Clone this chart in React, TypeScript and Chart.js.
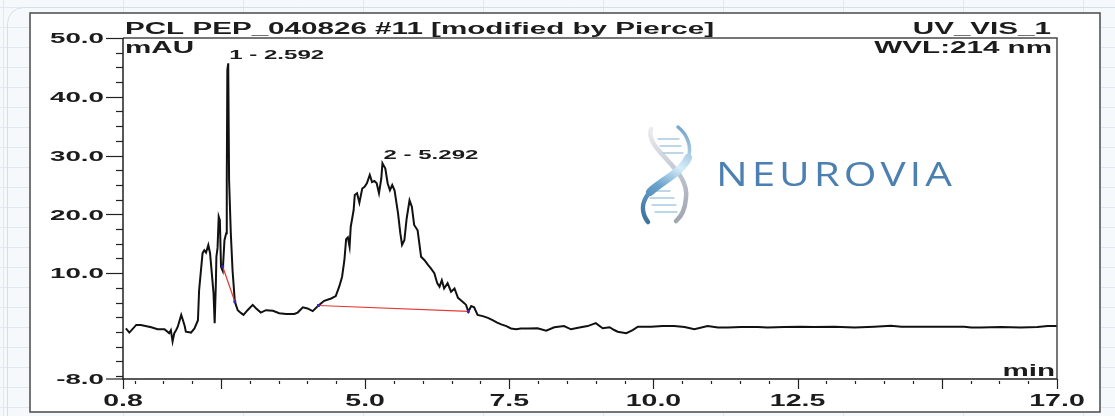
import React, { useEffect, useRef } from "react";
import { Chart, registerables } from "chart.js";
Chart.register(...registerables);

// ---- Data (retention time in min, absorbance in mAU) ----
const TIMES = [
  0.85, 0.91, 1.03, 1.11, 1.29, 1.40, 1.52, 1.60, 1.63, 1.66, 1.69, 1.72, 1.75, 1.81, 1.84, 1.87, 1.89, 1.98,
  2.04, 2.10, 2.12, 2.18, 2.21, 2.24, 2.28, 2.31, 2.34, 2.37, 2.39, 2.41, 2.42, 2.44, 2.46, 2.48, 2.50, 2.53,
  2.56, 2.59, 2.60, 2.61, 2.625, 2.64, 2.67, 2.70, 2.74, 2.79, 2.85, 2.89, 2.96, 3.05, 3.11,
  3.19, 3.28, 3.40, 3.51, 3.63, 3.77, 3.83, 3.92, 4.00, 4.09, 4.19, 4.29, 4.41, 4.49, 4.55, 4.60, 4.64, 4.67,
  4.70, 4.73, 4.75, 4.80, 4.82, 4.86, 4.90, 4.95, 4.99, 5.03, 5.08, 5.12, 5.16, 5.20, 5.24, 5.28, 5.30, 5.35,
  5.39, 5.43, 5.47, 5.51, 5.57, 5.61, 5.64, 5.68, 5.72, 5.77, 5.81, 5.85, 5.91, 5.97, 6.03,
  6.09, 6.14, 6.20, 6.25, 6.29, 6.33, 6.37, 6.43, 6.49, 6.55, 6.61, 6.66, 6.72, 6.75, 6.79, 6.84, 6.89, 6.95,
  7.04, 7.13, 7.21, 7.29, 7.36, 7.45, 7.53, 7.62, 7.70, 7.82, 7.99, 8.14, 8.28, 8.45, 8.57, 8.74, 8.86, 9.00,
  9.12, 9.24, 9.32, 9.38, 9.53, 9.64, 9.73, 9.96, 10.16, 10.36, 10.54, 10.71, 10.94, 11.12, 11.29, 11.52,
  11.81, 11.98, 12.27, 12.56, 12.79, 13.14, 13.49, 13.83, 14.12, 14.30, 14.87, 15.39, 15.51, 15.68, 16.03,
  16.37, 16.66, 16.84, 17.0,
];
const MAU = [
  0.6, -0.1, 1.2, 1.2, 0.8, 0.45, 0.45, -0.2, 0.3, -1.6, -0.2, 0.3, 0.9, 2.9, 2.0, 1.0, 0.05, -0.1,
  0.6, 2.0, 7.1, 13.4, 13.9, 13.5, 14.8, 13.4, 10.0, 6.6, 1.5, 8.0, 12.8, 14.3, 19.6, 19.0, 11.1, 10.4,
  15.6, 16.8, 25.8, 44.6, 45.7, 25.8, 16.8, 10.5, 5.15, 3.7, 3.2, 2.9, 3.7, 4.6, 4.0,
  3.3, 3.7, 3.6, 3.2, 3.05, 3.05, 3.3, 4.2, 4.0, 3.55, 4.5, 5.3, 5.7, 6.1, 7.7, 9.4, 12.2, 15.8,
  16.1, 14.5, 17.9, 20.7, 23.3, 23.6, 22.0, 24.4, 24.7, 25.3, 26.7, 25.5, 25.7, 25.3, 23.6, 26.1, 28.7, 27.8,
  25.3, 24.1, 25.0, 24.1, 20.2, 16.8, 14.8, 15.6, 19.3, 22.4, 21.3, 18.2, 17.3, 12.8, 12.2,
  11.4, 10.8, 10.0, 8.3, 7.7, 8.8, 7.4, 8.3, 6.85, 7.4, 5.8, 5.4, 4.9, 4.6, 3.45, 4.4, 4.2, 2.9,
  2.7, 2.4, 2.0, 1.6, 1.3, 1.0, 0.6, 0.45, 0.6, 0.6, 0.62, 0.22, 0.8, 1.0, 0.45, 0.8, 1.0, 1.5,
  0.62, 0.8, 0.33, 0.05, -0.2, 0.33, 0.9, 0.9, 1.0, 1.0, 0.85, 0.45, 1.0, 0.75, 0.75, 0.85,
  0.85, 0.75, 0.85, 0.9, 0.85, 0.9, 0.75, 0.9, 1.05, 0.9, 0.9, 0.9, 0.75, 0.75, 0.85,
  0.75, 0.85, 1.0, 1.0,
];

// integration baselines
const BASE1_T = [2.53, 2.74];
const BASE1_V = [11.1, 5.15];
const BASE2_T = [4.19, 6.79];
const BASE2_V = [4.5, 3.5];

// peak annotations
const PEAK_LABELS = ["1 - 2.592", "2 - 5.292"];
const PEAK_T = [2.625, 5.30];
const PEAK_V = [45.7, 28.7];

// axes
const X_MIN = 0.8;
const X_MAX = 17.0;
const Y_MIN = -8;
const Y_MAX = 50;
const X_LABEL_TICKS = [0.8, 5.0, 7.5, 10.0, 12.5, 17.0];
const X_LABEL_TEXT = ["0.8", "5.0", "7.5", "10.0", "12.5", "17.0"];
const X_MAJOR_TICKS = [0.8, 2.5, 5.0, 7.5, 10.0, 12.5, 15.0, 17.0];
const X_MINOR_STEP = 0.5;
const Y_LABEL_TICKS = [50, 40, 30, 20, 10, -8];
const Y_LABEL_TEXT = ["50.0", "40.0", "30.0", "20.0", "10.0", "-8.0"];
const Y_MINOR_STEP = 2.5;

const TITLE = "PCL PEP_040826 #11 [modified by Pierce]";
const CHANNEL = "UV_VIS_1";
const WAVELENGTH = "WVL:214 nm";
const Y_UNIT = "mAU";
const X_UNIT = "min";
const BRAND = "NEUROVIA";

const SX = 1.85;
const FONT = "'Liberation Sans', Arial, sans-serif";
const INK = "#1c1c1c";

function sText(ctx: any, text: string, x: number, y: number, font: string, align: string, baseline = "alphabetic", sx = SX) {
  ctx.save();
  ctx.font = font;
  ctx.fillStyle = INK;
  ctx.textAlign = align;
  ctx.textBaseline = baseline;
  ctx.translate(x, y);
  ctx.scale(sx, 1);
  ctx.fillText(text, 0, 0);
  ctx.restore();
}

function drawLogo(ctx: any) {
  ctx.save();
  ctx.lineCap = "round";
  // silver strand
  const g1 = ctx.createLinearGradient(645, 125, 690, 225);
  g1.addColorStop(0, "#eeeff3");
  g1.addColorStop(0.5, "#c3c7d0");
  g1.addColorStop(1, "#9aa0ab");
  ctx.strokeStyle = g1;
  ctx.lineWidth = 4.5;
  ctx.beginPath();
  ctx.moveTo(651, 129);
  ctx.bezierCurveTo(644, 150, 690, 168, 686, 198);
  ctx.bezierCurveTo(685, 210, 681, 217, 676, 221);
  ctx.stroke();
  // rungs
  ctx.strokeStyle = "#a8cae2";
  ctx.lineWidth = 1.3;
  const rungs = [
    [658, 679, 139], [660, 681, 146], [663, 683, 153],
    [648, 670, 191], [650, 674, 198], [652, 676, 205], [655, 677, 212],
  ];
  rungs.forEach(([a, b, y]) => {
    ctx.beginPath();
    ctx.moveTo(a, y);
    ctx.lineTo(b, y);
    ctx.stroke();
  });
  // blue strand
  const g2 = ctx.createLinearGradient(690, 128, 642, 222);
  g2.addColorStop(0, "#6e9ec6");
  g2.addColorStop(0.38, "#d6edf9");
  g2.addColorStop(0.62, "#6aa2cc");
  g2.addColorStop(1, "#3b6e9b");
  ctx.strokeStyle = g2;
  ctx.lineWidth = 3.5;
  ctx.beginPath();
  ctx.moveTo(678, 127);
  ctx.bezierCurveTo(688, 135, 692, 148, 688, 158);
  ctx.stroke();
  ctx.lineWidth = 8;
  ctx.beginPath();
  ctx.moveTo(688, 158);
  ctx.bezierCurveTo(682, 172, 660, 182, 650, 192);
  ctx.stroke();
  ctx.lineWidth = 4.5;
  ctx.beginPath();
  ctx.moveTo(650, 192);
  ctx.bezierCurveTo(640, 203, 642, 214, 648, 222);
  ctx.stroke();
  // brand text
  ctx.fillStyle = "#4b80b0";
  ctx.font = "400 32px 'Open Sans', 'Lato', sans-serif";
  try { ctx.letterSpacing = "3px"; } catch (e) {}
  const w = ctx.measureText(BRAND).width - 3;
  ctx.textAlign = "left";
  ctx.textBaseline = "alphabetic";
  ctx.translate(716, 186);
  ctx.scale(236 / w, 1);
  ctx.fillText(BRAND, 0, 0);
  ctx.restore();
}

const backgroundPlugin = {
  id: "bgFrame",
  beforeDraw(chart: any) {
    const { ctx, width, height } = chart;
    ctx.save();
    ctx.fillStyle = "#f6f9fc";
    ctx.fillRect(0, 0, width, height);
    ctx.strokeStyle = "#e1e8f0";
    ctx.lineWidth = 1;
    for (let x = 3.5; x < width; x += 120) {
      ctx.beginPath(); ctx.moveTo(x, 0); ctx.lineTo(x, height); ctx.stroke();
    }
    for (let y = 7.5; y < height; y += 20) {
      ctx.beginPath(); ctx.moveTo(0, y); ctx.lineTo(width, y); ctx.stroke();
    }
    // card edge
    ctx.strokeStyle = "#d5dfeb";
    ctx.beginPath();
    ctx.roundRect(7.5, 7.5, width + 30, height + 30, 16);
    ctx.stroke();
    // white frame
    ctx.fillStyle = "#ffffff";
    ctx.fillRect(30, 13, 1070, 399);
    ctx.strokeStyle = "#4a4a4a";
    ctx.lineWidth = 1.5;
    ctx.strokeRect(30, 13, 1070, 399);
    ctx.restore();
    drawLogo(ctx);
  },
};

const axesPlugin = {
  id: "chromAxes",
  afterDatasetsDraw(chart: any) {
    const { ctx, chartArea: a } = chart;
    const xs = chart.scales.x;
    const ys = chart.scales.y;
    ctx.save();
    // frame box top/right
    ctx.strokeStyle = "#4a4a4a";
    ctx.lineWidth = 1.5;
    ctx.beginPath();
    ctx.moveTo(a.left, a.top);
    ctx.lineTo(a.right, a.top);
    ctx.lineTo(a.right, a.bottom);
    ctx.stroke();
    // axes
    ctx.strokeStyle = "#222";
    ctx.beginPath();
    ctx.moveTo(a.left, a.top);
    ctx.lineTo(a.left, a.bottom);
    ctx.lineTo(a.right, a.bottom);
    ctx.stroke();
    // y ticks
    ctx.lineWidth = 1.2;
    for (let v = Y_MAX; v > Y_MIN; v -= Y_MINOR_STEP) {
      const py = Math.round(ys.getPixelForValue(v)) + 0.5;
      const major = Y_LABEL_TICKS.includes(v);
      ctx.beginPath();
      ctx.moveTo(a.left - (major ? 17 : 7), py);
      ctx.lineTo(a.left, py);
      ctx.stroke();
    }
    {
      const py = ys.getPixelForValue(Y_MIN);
      ctx.beginPath();
      ctx.moveTo(a.left - 17, py);
      ctx.lineTo(a.left, py);
      ctx.stroke();
    }
    Y_LABEL_TICKS.forEach((v, i) => {
      sText(ctx, Y_LABEL_TEXT[i], a.left - 19, ys.getPixelForValue(v) + 1, `bold 15px ${FONT}`, "right", "middle");
    });
    // x ticks
    for (let t = 1.0; t < X_MAX; t += X_MINOR_STEP) {
      if (X_MAJOR_TICKS.includes(t)) continue;
      const px = Math.round(xs.getPixelForValue(t)) + 0.5;
      ctx.beginPath();
      ctx.moveTo(px, a.bottom + 2);
      ctx.lineTo(px, a.bottom + 5);
      ctx.stroke();
    }
    X_MAJOR_TICKS.forEach((t) => {
      const px = Math.round(xs.getPixelForValue(t)) + 0.5;
      ctx.beginPath();
      ctx.moveTo(px, a.bottom);
      ctx.lineTo(px, a.bottom + 10);
      ctx.stroke();
    });
    X_LABEL_TICKS.forEach((t, i) => {
      sText(ctx, X_LABEL_TEXT[i], xs.getPixelForValue(t), 406, `bold 16px ${FONT}`, "center", "alphabetic", 1.78);
    });
    // titles
    sText(ctx, TITLE, a.left + 2, 34, `bold 16px ${FONT}`, "left");
    sText(ctx, CHANNEL, a.right - 6, 34, `bold 16px ${FONT}`, "right");
    sText(ctx, Y_UNIT, a.left + 2, 53, `bold 16px ${FONT}`, "left");
    sText(ctx, WAVELENGTH, a.right - 5, 53, `bold 16px ${FONT}`, "right");
    sText(ctx, X_UNIT, a.right - 2, 376, `bold 16px ${FONT}`, "right");
    // peak labels
    PEAK_LABELS.forEach((lab, i) => {
      const px = xs.getPixelForValue(PEAK_T[i]);
      const py = ys.getPixelForValue(PEAK_V[i]);
      sText(ctx, lab, px + 1, py - 4, `bold 13px ${FONT}`, "left");
    });
    ctx.restore();
  },
};

export default function App() {
  const ref = useRef<HTMLCanvasElement | null>(null);
  useEffect(() => {
    if (!ref.current) return;
    const trace = TIMES.map((t, i) => ({ x: t, y: MAU[i] }));
    const b1 = BASE1_T.map((t, i) => ({ x: t, y: BASE1_V[i] }));
    const b2 = BASE2_T.map((t, i) => ({ x: t, y: BASE2_V[i] }));
    const baseStyle = {
      borderColor: "#e53935",
      borderWidth: 1.2,
      pointRadius: 2,
      pointStyle: "rect",
      pointBackgroundColor: "#2a2ad0",
      pointBorderColor: "#2a2ad0",
      pointBorderWidth: 0,
      tension: 0,
      order: 1,
    };
    const chart = new Chart(ref.current, {
      type: "line",
      data: {
        datasets: [
          { data: trace, borderColor: "#111", borderWidth: 2, pointRadius: 0, tension: 0, order: 3 },
          { data: b1, ...baseStyle } as any,
          { data: b2, ...baseStyle } as any,
        ],
      },
      options: {
        responsive: false,
        animation: false,
        events: [],
        layout: { padding: { left: 123, top: 38, right: 58, bottom: 37 } },
        scales: {
          x: { type: "linear", min: X_MIN, max: X_MAX, display: false },
          y: { type: "linear", min: Y_MIN, max: Y_MAX, display: false },
        },
        plugins: { legend: { display: false }, tooltip: { enabled: false } },
      },
      plugins: [backgroundPlugin, axesPlugin],
    } as any);
    return () => chart.destroy();
  }, []);
  return (
    <div style={{ position: "fixed", left: 0, top: 0, width: 1115, height: 416 }}>
      <canvas ref={ref} width={1115} height={416} style={{ display: "block", width: 1115, height: 416 }} />
    </div>
  );
}
